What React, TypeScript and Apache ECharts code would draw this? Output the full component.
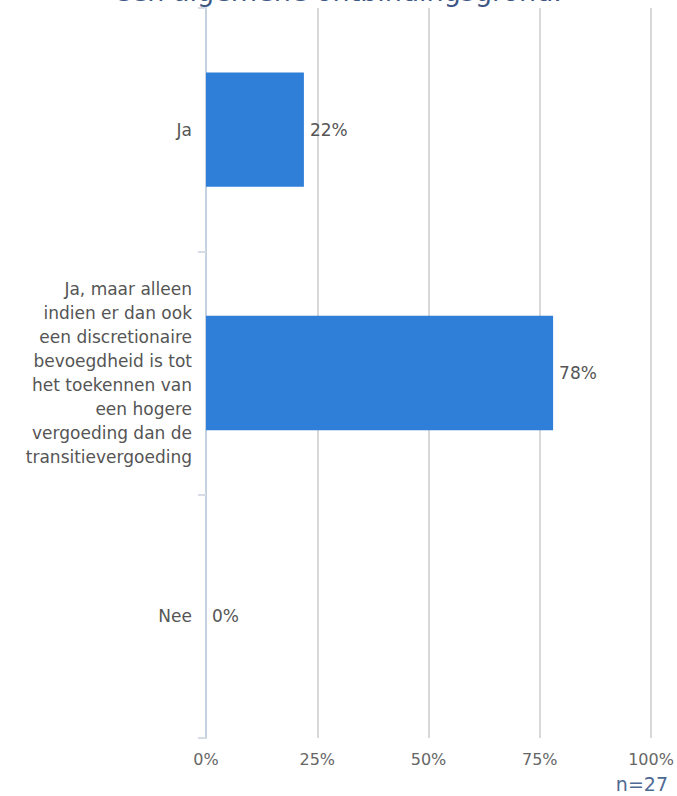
import React, { useEffect, useRef } from "react";
import * as echarts from "echarts";

const categories = [
  "Ja",
  "Ja, maar alleen\nindien er dan ook\neen discretionaire\nbevoegdheid is tot\nhet toekennen van\neen hogere\nvergoeding dan de\ntransitievergoeding",
  "Nee",
];
const values = [22, 78, 0];
const xTicks = [0, 25, 50, 75, 100];
const titleText = "een algemene ontbindingsgrond.";
const nText = "n=27";

export default function App() {
  const ref = useRef<HTMLDivElement>(null);
  useEffect(() => {
    document.body.style.margin = "0";
    const chart = echarts.init(ref.current!, null, { renderer: "svg" });
    const font = "'DejaVu Sans', Verdana, sans-serif";
    chart.setOption({
      animation: false,
      backgroundColor: "#ffffff",
      grid: { left: 206, right: 26, top: 8, bottom: 58, containLabel: false },
      xAxis: {
        type: "value",
        min: 0,
        max: 100,
        interval: 25,
        axisLine: { show: false },
        axisTick: { show: false },
        splitLine: { show: true, lineStyle: { color: "#d8d8d8", width: 2 } },
        axisLabel: {
          formatter: (v: number) => (xTicks.includes(v) ? v + "%" : ""),
          color: "#666666",
          fontFamily: font,
          fontSize: 16,
          margin: 13,
        },
      },
      yAxis: {
        type: "category",
        inverse: true,
        data: categories,
        axisLine: { show: true, lineStyle: { color: "#c5d2e0", width: 2 } },
        axisTick: { show: true, length: 8, lineStyle: { color: "#d6dde6", width: 2 } },
        axisLabel: {
          color: "#555555",
          fontFamily: font,
          fontSize: 17,
          lineHeight: 24,
          align: "right",
          margin: 14,
        },
      },
      series: [
        {
          type: "bar",
          data: values,
          barWidth: "47%",
          itemStyle: { color: "#2f7ed8" },
          label: {
            show: true,
            position: "right",
            distance: 6,
            formatter: "{c}%",
            color: "#555555",
            fontFamily: font,
            fontSize: 17,
          },
        },
      ],
      graphic: [
        {
          type: "text",
          x: 338,
          y: 5,
          style: {
            text: titleText,
            fill: "#3e5785",
            font: `27px ${font}`,
            align: "center",
            verticalAlign: "bottom",
          },
        },
        {
          type: "text",
          x: 668,
          y: 784,
          style: {
            text: nText,
            fill: "#4f6a92",
            font: `19px ${font}`,
            align: "right",
            verticalAlign: "middle",
          },
        },
      ],
    });
    return () => chart.dispose();
  }, []);
  return (
    <div
      ref={ref}
      style={{ position: "absolute", left: 0, top: 0, width: 677, height: 796 }}
    />
  );
}
